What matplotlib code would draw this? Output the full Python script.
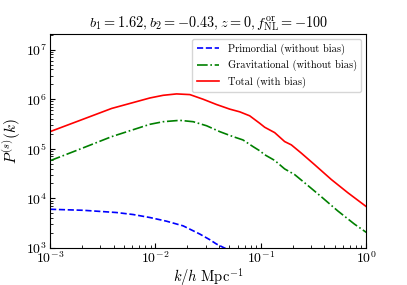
import matplotlib
matplotlib.use("Agg")
import matplotlib.pyplot as plt
import numpy as np

plt.rcParams["font.family"] = "serif"
plt.rcParams["font.serif"] = ["cmr10", "DejaVu Serif"]
plt.rcParams["mathtext.fontset"] = "cm"
plt.rcParams["axes.formatter.use_mathtext"] = True

# ── Data (k in h/Mpc) ────────────────────────────────────────────────────────
k_tot = [1.0e-3, 1.85e-3, 3.84e-3, 8.85e-3, 0.01183, 0.01585, 0.0212, 0.0283,
         0.0379, 0.0507, 0.0630, 0.0783, 0.0975, 0.1087, 0.1352, 0.168,
         0.1945, 0.2415, 0.323, 0.466, 0.668, 1.0]
p_tot = [2.22e5, 3.63e5, 6.52e5, 1.06e6, 1.20e6, 1.28e6, 1.24e6, 1.00e6,
         7.83e5, 6.31e5, 5.57e5, 4.63e5, 3.27e5, 2.72e5, 2.12e5, 1.40e5,
         1.20e5, 8.20e4, 4.79e4, 2.40e4, 1.30e4, 6.82e3]

k_grav = [1.0e-3, 1.85e-3, 3.84e-3, 8.85e-3, 0.01183, 0.0170, 0.0228, 0.0305,
          0.0407, 0.0545, 0.0676, 0.0841, 0.0975, 0.1087, 0.1352, 0.168,
          0.209, 0.279, 0.374, 0.537, 0.773, 1.0]
p_grav = [5.75e4, 9.55e4, 1.76e5, 3.12e5, 3.52e5, 3.75e5, 3.52e5, 2.92e5,
          2.22e5, 1.76e5, 1.51e5, 1.11e5, 9.12e4, 7.59e4, 5.83e4, 3.93e4,
          3.02e4, 1.82e4, 1.08e4, 5.57e3, 3.02e3, 2.06e3]

k_prim = [1.0e-3, 2.07e-3, 4.28e-3, 6.15e-3, 8.85e-3, 0.0127, 0.0183, 0.0263,
          0.0327, 0.0379, 0.0471]
p_prim = [6.03e3, 5.75e3, 5.18e3, 4.72e3, 4.11e3, 3.47e3, 2.79e3, 1.91e3,
          1.47e3, 1.20e3, 9.55e2]

title = r"$b_1=1.62, b_2=-0.43, z=0, f_{\rm NL}^{\rm or}=-100$"

# ── Plot ──────────────────────────────────────────────────────────────────────
fig, ax = plt.subplots(figsize=(4.07, 2.85), dpi=100)

ax.loglog(k_prim, p_prim, "b--", lw=1.2, label="Primordial (without bias)")
ax.loglog(k_grav, p_grav, "g-.", lw=1.2, label="Gravitational (without bias)")
ax.loglog(k_tot, p_tot, "r-", lw=1.2, label="Total (with bias)")

ax.set_xlim(1e-3, 1.0)
ax.set_ylim(1e3, 2.05e7)
ax.set_xlabel(r"$k/h\ {\rm Mpc}^{-1}$", fontsize=10.5, labelpad=0)
ax.set_ylabel(r"$P^{(s)}(k)$", fontsize=11, labelpad=2)
ax.set_title(title, fontsize=10.3, pad=5)
ax.tick_params(which="both", direction="in", labelsize=10, pad=2)
ax.legend(loc="upper right", fontsize=7.5, handlelength=2.2, framealpha=0.8)

fig.subplots_adjust(left=0.123, right=0.900, bottom=0.13, top=0.880)
fig.savefig("out.png", dpi=100)
